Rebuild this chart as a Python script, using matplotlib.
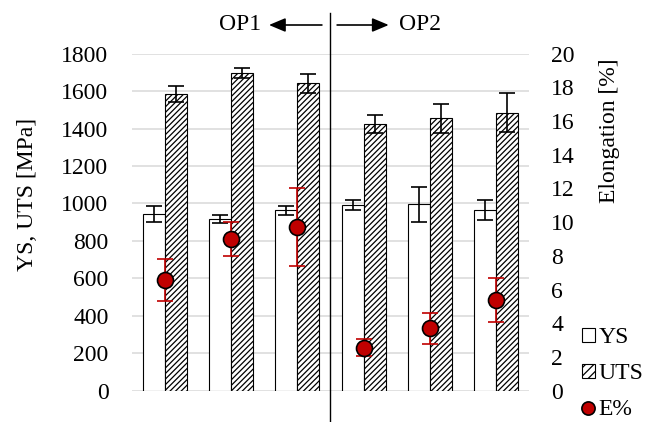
import matplotlib
matplotlib.use("Agg")
import matplotlib.pyplot as plt
import matplotlib.transforms as mtransforms
from matplotlib.patches import Patch
from matplotlib.lines import Line2D
import numpy as np

plt.rcParams['font.family'] = ['Liberation Serif', 'DejaVu Serif']
plt.rcParams['hatch.linewidth'] = 0.9

# Data
samples = ["OP1-1", "OP1-2", "OP1-3", "OP2-1", "OP2-2", "OP2-3"]
ys = [942, 917, 963, 990, 995, 965]
ys_err = [42, 22, 24, 27, 92, 53]
uts = [1583, 1697, 1642, 1424, 1455, 1484]
uts_err = [44, 27, 50, 48, 77, 103]
elong = [6.57, 8.98, 9.70, 2.55, 3.70, 5.38]
elong_err = [1.24, 1.0, 2.33, 0.52, 0.9, 1.29]

left_ticks = list(range(0, 1801, 200))
right_ticks = list(range(0, 21, 2))

fig = plt.figure(figsize=(6.64, 4.22), dpi=100)
ax = fig.add_axes([132/664, 1-390.7/422, 397/664, 337.1/422])
ax2 = ax.twinx()

x = np.arange(len(samples))
w = 1/3
fs = 17
red = '#c00000'

ax.set_axisbelow(True)
ax.yaxis.grid(True, color='#d9d9d9', linewidth=1.1)
ekw = dict(ecolor='black', elinewidth=1.2, capsize=6, capthick=1.2)
ax.bar(x - w/2, ys, width=w, color='white', edgecolor='black', linewidth=0.8,
       yerr=ys_err, error_kw=ekw, zorder=2)
ax.bar(x + w/2, uts, width=w, color='white', edgecolor='black', linewidth=0.8, hatch='//////',
       yerr=uts_err, error_kw=ekw, zorder=2)

ax2.errorbar(x, elong, yerr=elong_err, fmt='o', color=red, markerfacecolor=red,
             markeredgecolor='black', markeredgewidth=1.2, markersize=11.5,
             ecolor=red, elinewidth=1.2, capsize=6, capthick=1.2, zorder=3)

ax.set_xlim(-0.5, len(samples) - 0.5)
ax.set_ylim(0, 1800)
ax2.set_ylim(0, 20)
ax.set_yticks(left_ticks)
ax2.set_yticks(right_ticks)
ax.set_xticks([])
for a in (ax, ax2):
    for s in a.spines.values():
        s.set_visible(False)
ax.tick_params(axis='y', length=0, pad=17, labelsize=fs)
ax2.tick_params(axis='y', length=0, pad=16, labelsize=fs)

fig.text(28/664, 1-194/422, "YS, UTS [MPa]", rotation=90, ha='center', va='center', fontsize=fs)
fig.text(610/664, 1-131/422, "Elongation [%]", rotation=90, ha='center', va='center', fontsize=fs)

# separator line and OP labels
trans = mtransforms.blended_transform_factory(ax.transData, ax.transAxes)
ax.plot([2.5, 2.5], [-0.1, (390.7-13)/337.1], transform=trans, color='black',
        linewidth=1.0, clip_on=False, zorder=5)
ty = (390.7-25)/337.1
astyle = '-|>,head_length=1.0,head_width=0.42'
ax.annotate("", xy=(1.57, ty), xytext=(2.37, ty), xycoords=trans, textcoords=trans,
            arrowprops=dict(arrowstyle=astyle, color='black', lw=1.2, shrinkA=0, shrinkB=0))
ax.annotate("", xy=(3.38, ty), xytext=(2.6, ty), xycoords=trans, textcoords=trans,
            arrowprops=dict(arrowstyle=astyle, color='black', lw=1.2, shrinkA=0, shrinkB=0))
ax.text(1.45, ty, "OP1", transform=trans, ha='right', va='center', fontsize=fs)
ax.text(3.53, ty, "OP2", transform=trans, ha='left', va='center', fontsize=fs)

handles = [Patch(facecolor='white', edgecolor='black', linewidth=0.8),
           Patch(facecolor='white', edgecolor='black', linewidth=0.8, hatch='////'),
           Line2D([], [], marker='o', linestyle='none', markerfacecolor=red,
                  markeredgecolor='black', markersize=9.5, markeredgewidth=1.2)]
fig.legend(handles, ["YS", "UTS", "E%"], loc='upper left', bbox_to_anchor=(0.876, 0.225),
           frameon=False, fontsize=fs, borderpad=0, borderaxespad=0, handlelength=0.55,
           handleheight=0.55, handletextpad=0.15, labelspacing=0.64)

fig.savefig("out.png", dpi=100)
